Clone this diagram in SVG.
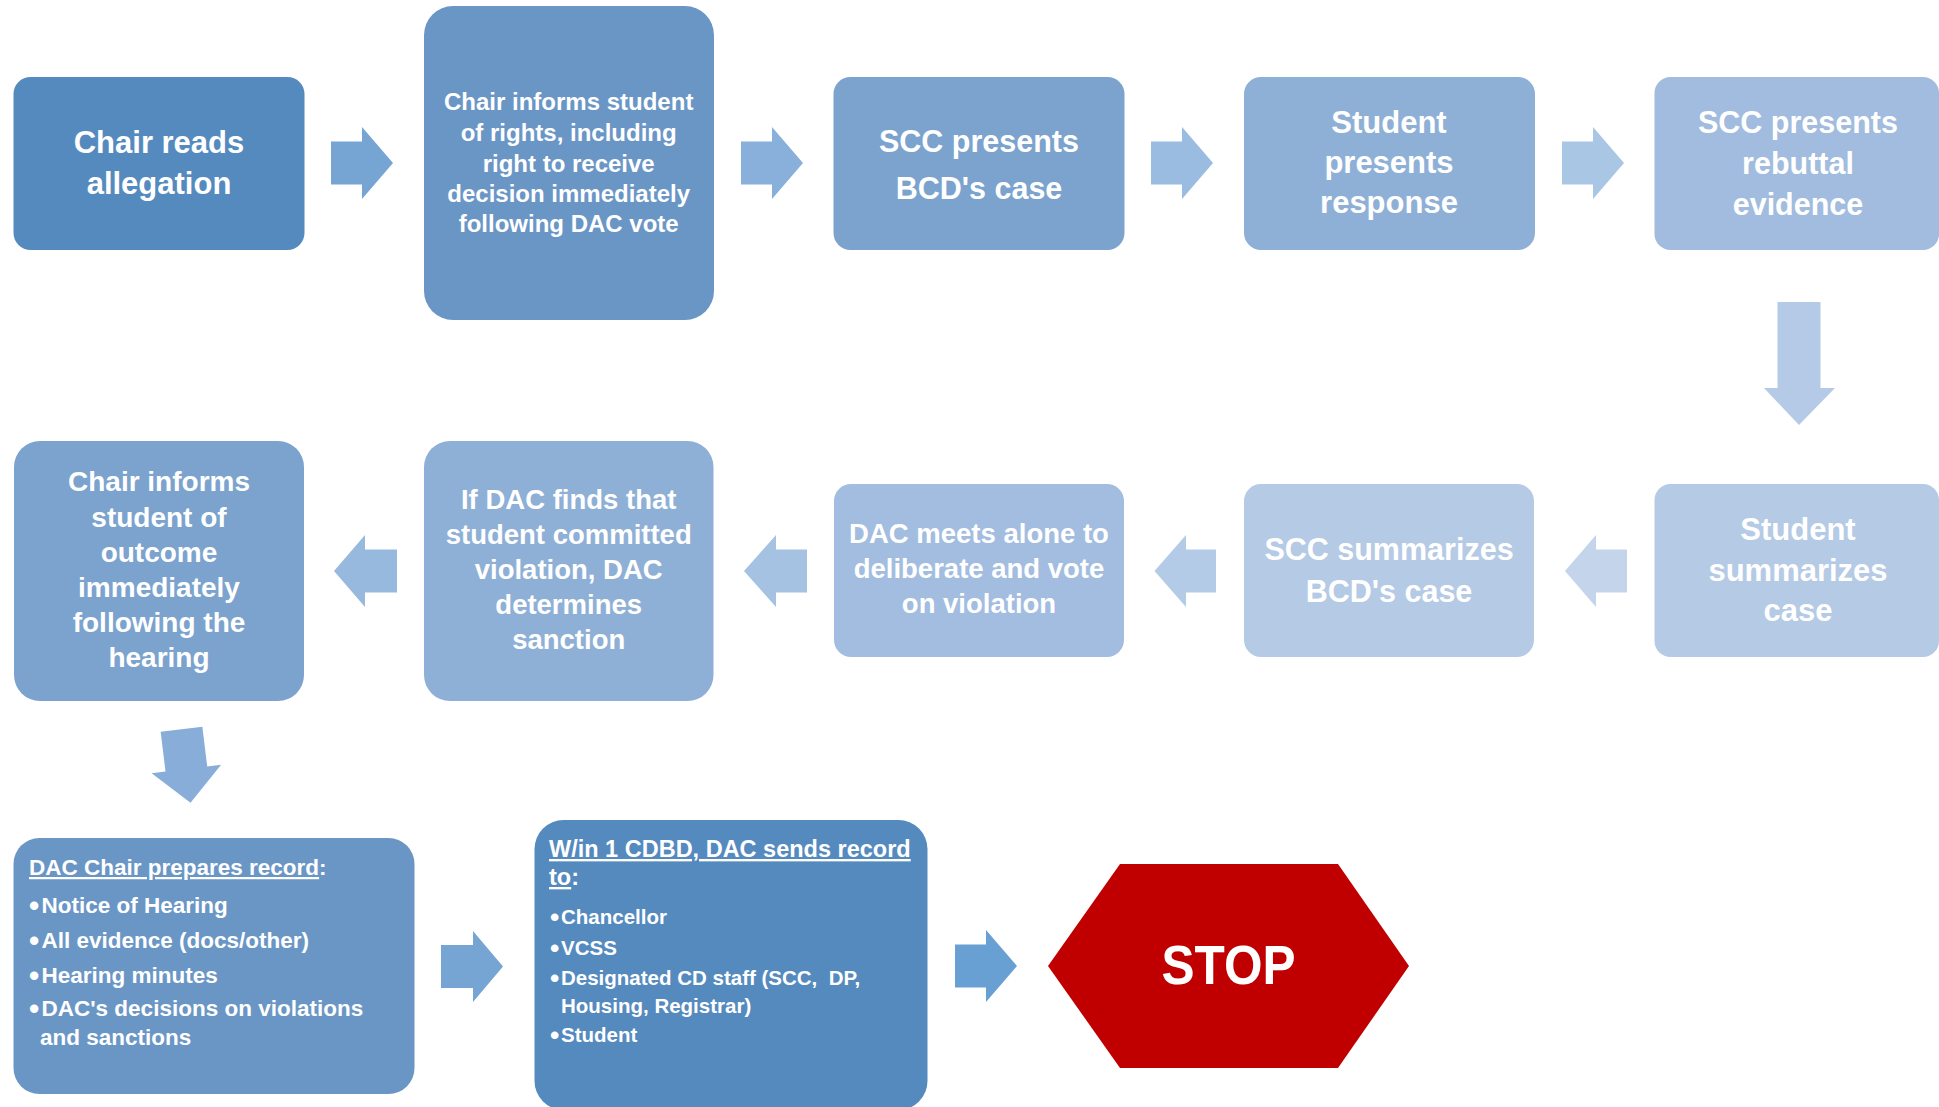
<svg xmlns="http://www.w3.org/2000/svg" width="1939" height="1107" viewBox="0 0 1939 1107">
<style>
text{font-family:"Liberation Sans",Arial,sans-serif;font-weight:bold;fill:#fff}
.c{text-anchor:middle}
.u{text-decoration:underline}
.pre{white-space:pre}
.b{font-size:1.3em}
</style>
<rect width="1939" height="1107" fill="#fff"/>
<g id="connectors">
<polygon points="331,141.5 362,141.5 362,127 393,163 362,199 362,184.5 331,184.5" fill="#76A5D4"/>
<polygon points="741,141.5 772,141.5 772,127 803,163 772,199 772,184.5 741,184.5" fill="#88B0DA"/>
<polygon points="1151,141.5 1182,141.5 1182,127 1213,163 1182,199 1182,184.5 1151,184.5" fill="#99BCE0"/>
<polygon points="1562,141.5 1593,141.5 1593,127 1624,163 1593,199 1593,184.5 1562,184.5" fill="#A9C6E5"/>
<polygon points="1777.5,302 1820.5,302 1820.5,388 1835,388 1799,425 1764,388 1777.5,388" fill="#B5CAE6"/>
<polygon points="1627,549.5 1596,549.5 1596,535 1565,571 1596,607 1596,592.5 1627,592.5" fill="#C3D4EB"/>
<polygon points="1216,549.5 1186,549.5 1186,535 1154.5,571 1186,607 1186,592.5 1216,592.5" fill="#B3CBE7"/>
<polygon points="807,549.5 776,549.5 776,535 744,571 776,607 776,592.5 807,592.5" fill="#A5C2E3"/>
<polygon points="397,549.5 365,549.5 365,535 334,571 365,607 365,592.5 397,592.5" fill="#98B9DE"/>
<polygon transform="translate(186,766) rotate(-7)" points="-21,-37 21,-37 21,3 35,3 0,37 -35,3 -21,3" fill="#87ADD8"/>
<polygon points="441,945 473,945 473,931 503,966.5 473,1002 473,988 441,988" fill="#76A5D4"/>
<polygon points="955,944.5 986,944.5 986,930 1017,966 986,1002 986,987.5 955,987.5" fill="#68A0D3"/>
</g>
<g id="n1">
<rect x="13.5" y="77" width="291" height="173" rx="17" fill="#558ABF"/>
<text class="c" x="159" font-size="31"><tspan x="159" y="153">Chair reads</tspan><tspan x="159" y="194">allegation</tspan></text>
</g>
<g id="n2">
<rect x="424" y="6" width="290" height="314" rx="29" fill="#6A96C6"/>
<text class="c" font-size="24"><tspan x="568.7" y="110">Chair informs student</tspan><tspan x="568.7" y="141">of rights, including</tspan><tspan x="568.7" y="172">right to receive</tspan><tspan x="568.7" y="202">decision immediately</tspan><tspan x="568.7" y="232">following DAC vote</tspan></text>
</g>
<g id="n3">
<rect x="833.5" y="77" width="291" height="173" rx="17" fill="#7BA3CE"/>
<text class="c" font-size="30.5"><tspan x="979" y="152">SCC presents</tspan><tspan x="979" y="199">BCD's case</tspan></text>
</g>
<g id="n4">
<rect x="1244" y="77" width="291" height="173" rx="17" fill="#8FB0D6"/>
<text class="c" font-size="31"><tspan x="1389" y="133">Student</tspan><tspan x="1389" y="173">presents</tspan><tspan x="1389" y="213">response</tspan></text>
</g>
<g id="n5">
<rect x="1654.5" y="77" width="284.5" height="173" rx="16" fill="#A1BCDE"/>
<text class="c" font-size="30.5"><tspan x="1798" y="133">SCC presents</tspan><tspan x="1798" y="174">rebuttal</tspan><tspan x="1798" y="215">evidence</tspan></text>
</g>
<g id="n6">
<rect x="1654.5" y="484" width="284.5" height="173" rx="16" fill="#B5CAE5"/>
<text class="c" font-size="31"><tspan x="1798" y="540">Student</tspan><tspan x="1798" y="581">summarizes</tspan><tspan x="1798" y="621">case</tspan></text>
</g>
<g id="n7">
<rect x="1244" y="484" width="290" height="173" rx="17" fill="#B5CAE5"/>
<text class="c" font-size="30.5"><tspan x="1389" y="560">SCC summarizes</tspan><tspan x="1389" y="602">BCD's case</tspan></text>
</g>
<g id="n8">
<rect x="834" y="484" width="290" height="173" rx="17" fill="#A2BDDF"/>
<text class="c" font-size="27.5"><tspan x="979" y="543">DAC meets alone to</tspan><tspan x="979" y="578">deliberate and vote</tspan><tspan x="979" y="613">on violation</tspan></text>
</g>
<g id="n9">
<rect x="424" y="441" width="289.5" height="260" rx="26" fill="#8FB0D6"/>
<text class="c" font-size="27.5"><tspan x="568.7" y="509">If DAC finds that</tspan><tspan x="568.7" y="544">student committed</tspan><tspan x="568.7" y="579">violation, DAC</tspan><tspan x="568.7" y="614">determines</tspan><tspan x="568.7" y="649">sanction</tspan></text>
</g>
<g id="n10">
<rect x="14" y="441" width="290" height="260" rx="26" fill="#7BA3CE"/>
<text class="c" font-size="28"><tspan x="159" y="491">Chair informs</tspan><tspan x="159" y="527">student of</tspan><tspan x="159" y="562">outcome</tspan><tspan x="159" y="597">immediately</tspan><tspan x="159" y="632">following the</tspan><tspan x="159" y="667">hearing</tspan></text>
</g>
<g id="n11">
<rect x="13.5" y="838" width="401" height="256" rx="26" fill="#6A96C6"/>
<text font-size="22.5" x="29" y="875"><tspan class="u">DAC Chair prepares record</tspan>:</text>
<text font-size="22.5"><tspan class="b" x="29" y="915.5">•</tspan><tspan x="41.5" y="913">Notice of Hearing</tspan></text>
<text font-size="22.5"><tspan class="b" x="29" y="950.5">•</tspan><tspan x="41.5" y="948">All evidence (docs/other)</tspan></text>
<text font-size="22.5"><tspan class="b" x="29" y="985.5">•</tspan><tspan x="41.5" y="983">Hearing minutes</tspan></text>
<text font-size="22.5"><tspan class="b" x="29" y="1018.5">•</tspan><tspan x="41.5" y="1016">DAC's decisions on violations</tspan><tspan x="40" y="1045">and sanctions</tspan></text>
</g>
<g id="n12">
<rect x="534.5" y="820" width="393" height="290" rx="29" fill="#558ABF"/>
<text font-size="23.5"><tspan class="u" x="549" y="857">W/in 1 CDBD, DAC sends record</tspan><tspan x="549" y="885"><tspan class="u">to</tspan>:</tspan></text>
<text font-size="20.5"><tspan class="b" x="550" y="926">•</tspan><tspan x="561" y="924">Chancellor</tspan></text>
<text font-size="20.5"><tspan class="b" x="550" y="957">•</tspan><tspan x="561" y="955">VCSS</tspan></text>
<text font-size="20.5" class="pre"><tspan class="b" x="550" y="987">•</tspan><tspan x="561" y="985">Designated CD staff (SCC,  DP,</tspan><tspan x="561" y="1013">Housing, Registrar)</tspan></text>
<text font-size="20.5"><tspan class="b" x="550" y="1044">•</tspan><tspan x="561" y="1042">Student</tspan></text>
</g>
<g id="stop">
<polygon points="1048,966 1120,864 1338,864 1409,966 1338,1068 1120,1068" fill="#C00000"/>
<text class="c" x="1228.5" y="984" font-size="56" textLength="134" lengthAdjust="spacingAndGlyphs">STOP</text>
</g>
</svg>
